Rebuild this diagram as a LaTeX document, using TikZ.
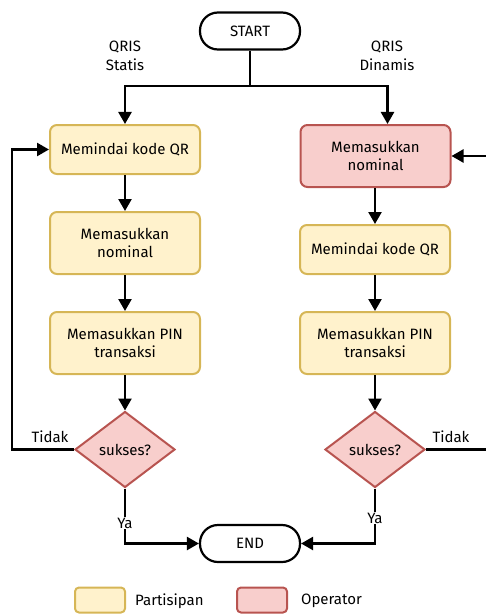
\documentclass[tikz,border=0pt]{standalone}
\usepackage{fontspec}
\setmainfont{Fira Sans}
\usetikzlibrary{shapes.geometric,arrows.meta,calc}
\definecolor{yfill}{HTML}{FFF2CC}
\definecolor{ydraw}{HTML}{D6B656}
\definecolor{rfill}{HTML}{F8CECC}
\definecolor{rdraw}{HTML}{B85450}
\begin{document}
\begin{tikzpicture}[x=1pt,y=-1pt,
  font=\fontsize{15}{18.5}\selectfont,
  base/.style={line width=2pt, align=center, inner sep=0pt, rounded corners=7pt},
  ybox/.style={base, draw=ydraw, fill=yfill, minimum width=150pt},
  rbox/.style={base, draw=rdraw, fill=rfill, minimum width=150pt},
  term/.style={line width=2.2pt, draw=black, fill=white, minimum width=100pt, minimum height=37pt, rounded corners=18pt, inner sep=0pt},
  dec/.style={diamond, draw=rdraw, fill=rfill, line width=2pt, minimum width=100pt, minimum height=76pt, inner sep=0pt, aspect=1.32},
  conn/.style={line width=2.4pt},
  arr/.style={conn, -{Triangle[width=13pt,length=12pt]}},
  lbl/.style={inner sep=1pt}
]
\useasboundingbox (0,0) rectangle (486,615);
% terminals
\node[term] (start) at (250,31) {START};
\node[term] (end) at (250,543.5) {END};
% branch labels
\node[lbl, align=center] (ls) at (125,56) {QRIS\\Statis};
\node[lbl, align=center] (ld) at (387,56) {QRIS\\Dinamis};
% left column
\node[ybox, minimum height=49pt] (l1) at (125,149.5) {Memindai kode QR};
\node[ybox, minimum height=62pt] (l2) at (125,243) {Memasukkan\\nominal};
\node[ybox, minimum height=62pt] (l3) at (125,343) {Memasukkan PIN\\transaksi};
\node[dec] (ld1) at (125,449.5) {sukses?};
% right column
\node[rbox, minimum height=62pt] (r1) at (375.5,156) {Memasukkan\\nominal};
\node[ybox, minimum height=49pt] (r2) at (375,249.5) {Memindai kode QR};
\node[ybox, minimum height=62pt] (r3) at (375,343) {Memasukkan PIN\\transaksi};
\node[dec] (rd1) at (375,449.5) {sukses?};
% split from start
\coordinate (split) at (250,86);
\draw[conn] (start.south) -- (split);
\draw[arr] (split) -| (l1.north);
\draw[arr] (split) -| ([xshift=12pt]r1.north);
% left flow
\draw[arr] (l1) -- (l2);
\draw[arr] (l2) -- (l3);
\draw[arr] (l3) -- (ld1);
% right flow
\draw[arr] (r1.south -| r2.north) -- (r2.north);
\draw[arr] (r2) -- (r3);
\draw[arr] (r3) -- (rd1);
% loops
\coordinate (lc) at (12,449.5);
\coordinate (rc) at (488,449.5);
\draw[arr] (ld1.west) -- (lc) |- (l1.west);
\draw[arr] (rd1.east) -- (rc) |- (r1.east);
\node[lbl] (tl) at (50,437) {Tidak};
\node[lbl] (tr) at (451,437) {Tidak};
% to end
\draw[arr] (ld1.south) |- (end.west);
\draw[arr] (rd1.south) |- (end.east);
\node[lbl, fill=white] (yl) at (125,523) {Ya};
\node[lbl, fill=white] (yr) at (375,518) {Ya};
% legend
\node[base, rounded corners=4pt, draw=ydraw, fill=yfill, minimum width=50pt, minimum height=25pt] (lgy) at (100,600) {};
\node[anchor=west, inner sep=0pt] (lgyt) at (135,601) {Partisipan};
\node[base, rounded corners=4pt, draw=rdraw, fill=rfill, minimum width=50pt, minimum height=25pt] (lgr) at (262,600) {};
\node[anchor=west, inner sep=0pt] (lgrt) at (301,601) {Operator};
\end{tikzpicture}
\end{document}
